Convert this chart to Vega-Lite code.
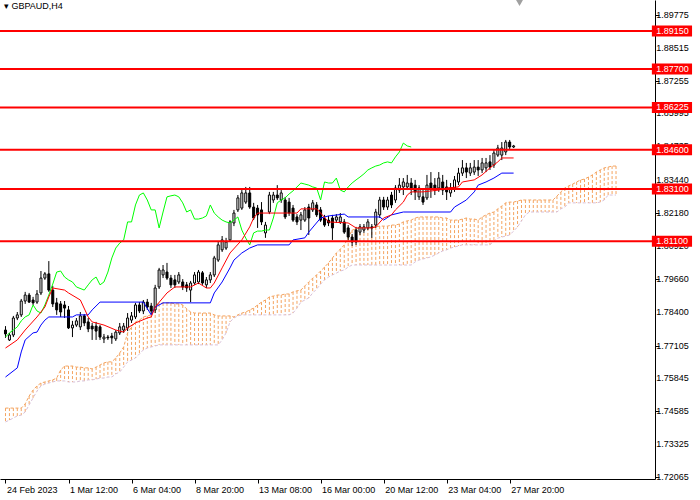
{
  "$schema": "https://vega.github.io/schema/vega-lite/v6.json",
  "width": 655,
  "height": 479,
  "autosize": "none",
  "padding": {"left": 0, "top": 0, "right": 45, "bottom": 21},
  "background": "white",
  "title": {"text": "▾  GBPAUD,H4", "anchor": "start", "frame": "group", "offset": -16, "baseline": "middle", "dx": 4, "fontSize": 9, "fontWeight": "normal", "font": "Liberation Sans", "color": "black"},
  "datasets": {
    "candles": [
      {"i":0,"o":1.7770,"h":1.7785,"l":1.7740,"c":1.7755},
      {"i":1,"o":1.7732,"h":1.7759,"l":1.7728,"c":1.7751},
      {"i":2,"o":1.7751,"h":1.7824,"l":1.7743,"c":1.7816},
      {"i":3,"o":1.7816,"h":1.7839,"l":1.7808,"c":1.7828},
      {"i":4,"o":1.7828,"h":1.7889,"l":1.7820,"c":1.7881},
      {"i":5,"o":1.7881,"h":1.7916,"l":1.7870,"c":1.7904},
      {"i":6,"o":1.7904,"h":1.7912,"l":1.7874,"c":1.7877},
      {"i":7,"o":1.7885,"h":1.7897,"l":1.7866,"c":1.7874},
      {"i":8,"o":1.7877,"h":1.7923,"l":1.7870,"c":1.7908},
      {"i":9,"o":1.7912,"h":1.7996,"l":1.7904,"c":1.7969},
      {"i":10,"o":1.7969,"h":1.7992,"l":1.7962,"c":1.7985},
      {"i":11,"o":1.7985,"h":1.8034,"l":1.7916,"c":1.7923},
      {"i":12,"o":1.7923,"h":1.7939,"l":1.7858,"c":1.7870},
      {"i":13,"o":1.7874,"h":1.7893,"l":1.7828,"c":1.7847},
      {"i":14,"o":1.7870,"h":1.7881,"l":1.7820,"c":1.7839},
      {"i":15,"o":1.7866,"h":1.7881,"l":1.7816,"c":1.7854},
      {"i":16,"o":1.7847,"h":1.7862,"l":1.7774,"c":1.7778},
      {"i":17,"o":1.7778,"h":1.7805,"l":1.7743,"c":1.7789},
      {"i":18,"o":1.7789,"h":1.7816,"l":1.7782,"c":1.7805},
      {"i":19,"o":1.7782,"h":1.7839,"l":1.7770,"c":1.7824},
      {"i":20,"o":1.7824,"h":1.7831,"l":1.7785,"c":1.7797},
      {"i":21,"o":1.7801,"h":1.7816,"l":1.7762,"c":1.7774},
      {"i":22,"o":1.7785,"h":1.7797,"l":1.7732,"c":1.7774},
      {"i":23,"o":1.7785,"h":1.7801,"l":1.7732,"c":1.7766},
      {"i":24,"o":1.7782,"h":1.7789,"l":1.7732,"c":1.7743},
      {"i":25,"o":1.7736,"h":1.7755,"l":1.7720,"c":1.7743},
      {"i":26,"o":1.7743,"h":1.7751,"l":1.7732,"c":1.7740},
      {"i":27,"o":1.7747,"h":1.7759,"l":1.7717,"c":1.7740},
      {"i":28,"o":1.7736,"h":1.7770,"l":1.7728,"c":1.7762},
      {"i":29,"o":1.7759,"h":1.7797,"l":1.7751,"c":1.7782},
      {"i":30,"o":1.7770,"h":1.7797,"l":1.7759,"c":1.7785},
      {"i":31,"o":1.7778,"h":1.7835,"l":1.7766,"c":1.7816},
      {"i":32,"o":1.7808,"h":1.7839,"l":1.7797,"c":1.7824},
      {"i":33,"o":1.7820,"h":1.7874,"l":1.7812,"c":1.7866},
      {"i":34,"o":1.7866,"h":1.7877,"l":1.7835,"c":1.7843},
      {"i":35,"o":1.7843,"h":1.7885,"l":1.7831,"c":1.7877},
      {"i":36,"o":1.7877,"h":1.7889,"l":1.7847,"c":1.7858},
      {"i":37,"o":1.7862,"h":1.7874,"l":1.7831,"c":1.7843},
      {"i":38,"o":1.7847,"h":1.7943,"l":1.7835,"c":1.7931},
      {"i":39,"o":1.7935,"h":1.8008,"l":1.7927,"c":1.8000},
      {"i":40,"o":1.7981,"h":1.8019,"l":1.7969,"c":1.8000},
      {"i":41,"o":1.7992,"h":1.8027,"l":1.7962,"c":1.7969},
      {"i":42,"o":1.7969,"h":1.7981,"l":1.7931,"c":1.7943},
      {"i":43,"o":1.7962,"h":1.7981,"l":1.7931,"c":1.7943},
      {"i":44,"o":1.7954,"h":1.7992,"l":1.7946,"c":1.7981},
      {"i":45,"o":1.7954,"h":1.7965,"l":1.7923,"c":1.7935},
      {"i":46,"o":1.7943,"h":1.7954,"l":1.7916,"c":1.7931},
      {"i":47,"o":1.7923,"h":1.7958,"l":1.7877,"c":1.7950},
      {"i":48,"o":1.7950,"h":1.7992,"l":1.7943,"c":1.7981},
      {"i":49,"o":1.7954,"h":1.8000,"l":1.7946,"c":1.7992},
      {"i":50,"o":1.7989,"h":1.7996,"l":1.7943,"c":1.7950},
      {"i":51,"o":1.7943,"h":1.7973,"l":1.7931,"c":1.7962},
      {"i":52,"o":1.7962,"h":1.7992,"l":1.7950,"c":1.7981},
      {"i":53,"o":1.7981,"h":1.8054,"l":1.7973,"c":1.8046},
      {"i":54,"o":1.8038,"h":1.8107,"l":1.8031,"c":1.8096},
      {"i":55,"o":1.8077,"h":1.8130,"l":1.8069,"c":1.8115},
      {"i":56,"o":1.8084,"h":1.8123,"l":1.8077,"c":1.8107},
      {"i":57,"o":1.8115,"h":1.8191,"l":1.8107,"c":1.8184},
      {"i":58,"o":1.8180,"h":1.8230,"l":1.8168,"c":1.8218},
      {"i":59,"o":1.8230,"h":1.8287,"l":1.8222,"c":1.8276},
      {"i":60,"o":1.8237,"h":1.8306,"l":1.8230,"c":1.8295},
      {"i":61,"o":1.8260,"h":1.8318,"l":1.8253,"c":1.8295},
      {"i":62,"o":1.8295,"h":1.8318,"l":1.8234,"c":1.8241},
      {"i":63,"o":1.8241,"h":1.8257,"l":1.8191,"c":1.8199},
      {"i":64,"o":1.8237,"h":1.8249,"l":1.8161,"c":1.8211},
      {"i":65,"o":1.8230,"h":1.8260,"l":1.8172,"c":1.8184},
      {"i":66,"o":1.8142,"h":1.8184,"l":1.8123,"c":1.8172},
      {"i":67,"o":1.8222,"h":1.8299,"l":1.8214,"c":1.8287},
      {"i":68,"o":1.8268,"h":1.8299,"l":1.8257,"c":1.8287},
      {"i":69,"o":1.8287,"h":1.8325,"l":1.8268,"c":1.8276},
      {"i":70,"o":1.8268,"h":1.8306,"l":1.8257,"c":1.8295},
      {"i":71,"o":1.8268,"h":1.8280,"l":1.8195,"c":1.8203},
      {"i":72,"o":1.8260,"h":1.8276,"l":1.8207,"c":1.8218},
      {"i":73,"o":1.8237,"h":1.8249,"l":1.8184,"c":1.8191},
      {"i":74,"o":1.8203,"h":1.8214,"l":1.8172,"c":1.8184},
      {"i":75,"o":1.8191,"h":1.8222,"l":1.8153,"c":1.8211},
      {"i":76,"o":1.8191,"h":1.8241,"l":1.8184,"c":1.8230},
      {"i":77,"o":1.8241,"h":1.8253,"l":1.8134,"c":1.8199},
      {"i":78,"o":1.8230,"h":1.8268,"l":1.8222,"c":1.8257},
      {"i":79,"o":1.8249,"h":1.8260,"l":1.8203,"c":1.8211},
      {"i":80,"o":1.8230,"h":1.8241,"l":1.8184,"c":1.8191},
      {"i":81,"o":1.8199,"h":1.8211,"l":1.8165,"c":1.8172},
      {"i":82,"o":1.8191,"h":1.8207,"l":1.8168,"c":1.8180},
      {"i":83,"o":1.8199,"h":1.8211,"l":1.8115,"c":1.8161},
      {"i":84,"o":1.8191,"h":1.8214,"l":1.8180,"c":1.8203},
      {"i":85,"o":1.8184,"h":1.8218,"l":1.8176,"c":1.8203},
      {"i":86,"o":1.8184,"h":1.8195,"l":1.8138,"c":1.8145},
      {"i":87,"o":1.8161,"h":1.8172,"l":1.8115,"c":1.8126},
      {"i":88,"o":1.8126,"h":1.8138,"l":1.8092,"c":1.8107},
      {"i":89,"o":1.8153,"h":1.8165,"l":1.8096,"c":1.8107},
      {"i":90,"o":1.8145,"h":1.8176,"l":1.8134,"c":1.8165},
      {"i":91,"o":1.8153,"h":1.8176,"l":1.8142,"c":1.8165},
      {"i":92,"o":1.8161,"h":1.8195,"l":1.8153,"c":1.8184},
      {"i":93,"o":1.8165,"h":1.8176,"l":1.8123,"c":1.8161},
      {"i":94,"o":1.8172,"h":1.8234,"l":1.8161,"c":1.8222},
      {"i":95,"o":1.8211,"h":1.8280,"l":1.8199,"c":1.8268},
      {"i":96,"o":1.8268,"h":1.8280,"l":1.8230,"c":1.8241},
      {"i":97,"o":1.8241,"h":1.8280,"l":1.8230,"c":1.8268},
      {"i":98,"o":1.8287,"h":1.8299,"l":1.8237,"c":1.8249},
      {"i":99,"o":1.8268,"h":1.8325,"l":1.8257,"c":1.8314},
      {"i":100,"o":1.8306,"h":1.8352,"l":1.8295,"c":1.8325},
      {"i":101,"o":1.8318,"h":1.8352,"l":1.8287,"c":1.8337},
      {"i":102,"o":1.8318,"h":1.8364,"l":1.8306,"c":1.8333},
      {"i":103,"o":1.8333,"h":1.8352,"l":1.8287,"c":1.8314},
      {"i":104,"o":1.8325,"h":1.8345,"l":1.8268,"c":1.8299},
      {"i":105,"o":1.8280,"h":1.8325,"l":1.8268,"c":1.8314},
      {"i":106,"o":1.8280,"h":1.8306,"l":1.8249,"c":1.8260},
      {"i":107,"o":1.8276,"h":1.8364,"l":1.8268,"c":1.8325},
      {"i":108,"o":1.8333,"h":1.8375,"l":1.8276,"c":1.8314},
      {"i":109,"o":1.8325,"h":1.8352,"l":1.8287,"c":1.8306},
      {"i":110,"o":1.8314,"h":1.8375,"l":1.8299,"c":1.8352},
      {"i":111,"o":1.8337,"h":1.8364,"l":1.8287,"c":1.8306},
      {"i":112,"o":1.8318,"h":1.8345,"l":1.8268,"c":1.8299},
      {"i":113,"o":1.8295,"h":1.8333,"l":1.8280,"c":1.8314},
      {"i":114,"o":1.8314,"h":1.8360,"l":1.8299,"c":1.8345},
      {"i":115,"o":1.8337,"h":1.8391,"l":1.8325,"c":1.8371},
      {"i":116,"o":1.8371,"h":1.8421,"l":1.8360,"c":1.8391},
      {"i":117,"o":1.8391,"h":1.8410,"l":1.8352,"c":1.8375},
      {"i":118,"o":1.8371,"h":1.8410,"l":1.8360,"c":1.8391},
      {"i":119,"o":1.8375,"h":1.8421,"l":1.8364,"c":1.8394},
      {"i":120,"o":1.8394,"h":1.8421,"l":1.8360,"c":1.8383},
      {"i":121,"o":1.8383,"h":1.8429,"l":1.8371,"c":1.8410},
      {"i":122,"o":1.8391,"h":1.8429,"l":1.8375,"c":1.8410},
      {"i":123,"o":1.8414,"h":1.8440,"l":1.8383,"c":1.8394},
      {"i":124,"o":1.8402,"h":1.8460,"l":1.8391,"c":1.8448},
      {"i":125,"o":1.8440,"h":1.8479,"l":1.8433,"c":1.8467},
      {"i":126,"o":1.8440,"h":1.8490,"l":1.8421,"c":1.8467},
      {"i":127,"o":1.8452,"h":1.8498,"l":1.8440,"c":1.8490},
      {"i":128,"o":1.8490,"h":1.8498,"l":1.8460,"c":1.8471},
      {"i":129,"o":1.8471,"h":1.8479,"l":1.8467,"c":1.8475}
    ],
    "cloud": [
      {"i":0,"a":1.7471,"b":1.7418},{"i":1,"a":1.7471,"b":1.7425},{"i":2,"a":1.7471,"b":1.7433},{"i":3,"a":1.7471,"b":1.7441},
      {"i":4,"a":1.7471,"b":1.7444},{"i":5,"a":1.7487,"b":1.7456},{"i":6,"a":1.7517,"b":1.7483},{"i":7,"a":1.7540,"b":1.7510},
      {"i":8,"a":1.7556,"b":1.7536},{"i":9,"a":1.7567,"b":1.7556},{"i":10,"a":1.7571,"b":1.7563},{"i":11,"a":1.7575,"b":1.7567},
      {"i":12,"a":1.7579,"b":1.7571},{"i":13,"a":1.7586,"b":1.7575},{"i":14,"a":1.7617,"b":1.7575},{"i":15,"a":1.7632,"b":1.7575},
      {"i":16,"a":1.7632,"b":1.7571},{"i":17,"a":1.7632,"b":1.7571},{"i":18,"a":1.7628,"b":1.7571},{"i":19,"a":1.7628,"b":1.7575},
      {"i":20,"a":1.7625,"b":1.7575},{"i":21,"a":1.7625,"b":1.7579},{"i":22,"a":1.7621,"b":1.7579},{"i":23,"a":1.7628,"b":1.7582},
      {"i":24,"a":1.7636,"b":1.7586},{"i":25,"a":1.7644,"b":1.7586},{"i":26,"a":1.7648,"b":1.7590},{"i":27,"a":1.7648,"b":1.7590},
      {"i":28,"a":1.7663,"b":1.7602},{"i":29,"a":1.7682,"b":1.7609},{"i":30,"a":1.7705,"b":1.7628},{"i":31,"a":1.7759,"b":1.7648},
      {"i":32,"a":1.7782,"b":1.7655},{"i":33,"a":1.7801,"b":1.7663},{"i":34,"a":1.7808,"b":1.7678},{"i":35,"a":1.7820,"b":1.7694},
      {"i":36,"a":1.7824,"b":1.7701},{"i":37,"a":1.7828,"b":1.7705},{"i":38,"a":1.7866,"b":1.7709},{"i":39,"a":1.7870,"b":1.7713},
      {"i":40,"a":1.7874,"b":1.7713},{"i":41,"a":1.7874,"b":1.7713},{"i":42,"a":1.7874,"b":1.7713},{"i":43,"a":1.7870,"b":1.7713},
      {"i":44,"a":1.7870,"b":1.7713},{"i":45,"a":1.7866,"b":1.7713},{"i":46,"a":1.7851,"b":1.7713},{"i":47,"a":1.7839,"b":1.7713},
      {"i":48,"a":1.7835,"b":1.7713},{"i":49,"a":1.7835,"b":1.7713},{"i":50,"a":1.7835,"b":1.7713},{"i":51,"a":1.7835,"b":1.7713},
      {"i":52,"a":1.7835,"b":1.7713},{"i":53,"a":1.7828,"b":1.7713},{"i":54,"a":1.7824,"b":1.7713},{"i":55,"a":1.7824,"b":1.7732},
      {"i":56,"a":1.7824,"b":1.7759},{"i":57,"a":1.7824,"b":1.7801},{"i":58,"a":1.7820,"b":1.7816},{"i":59,"a":1.7828,"b":1.7824},
      {"i":60,"a":1.7835,"b":1.7828},{"i":61,"a":1.7839,"b":1.7828},{"i":62,"a":1.7847,"b":1.7828},{"i":63,"a":1.7854,"b":1.7828},
      {"i":64,"a":1.7866,"b":1.7828},{"i":65,"a":1.7877,"b":1.7828},{"i":66,"a":1.7885,"b":1.7828},{"i":67,"a":1.7897,"b":1.7828},
      {"i":68,"a":1.7900,"b":1.7828},{"i":69,"a":1.7904,"b":1.7828},{"i":70,"a":1.7904,"b":1.7828},{"i":71,"a":1.7908,"b":1.7828},
      {"i":72,"a":1.7908,"b":1.7828},{"i":73,"a":1.7916,"b":1.7835},{"i":74,"a":1.7920,"b":1.7854},{"i":75,"a":1.7923,"b":1.7877},
      {"i":76,"a":1.7939,"b":1.7885},{"i":77,"a":1.7954,"b":1.7893},{"i":78,"a":1.7969,"b":1.7912},{"i":79,"a":1.7981,"b":1.7927},
      {"i":80,"a":1.7996,"b":1.7946},{"i":81,"a":1.8011,"b":1.7962},{"i":82,"a":1.8027,"b":1.7973},{"i":83,"a":1.8046,"b":1.7981},
      {"i":84,"a":1.8065,"b":1.7988},{"i":85,"a":1.8080,"b":1.7996},{"i":86,"a":1.8096,"b":1.8000},{"i":87,"a":1.8122,"b":1.8011},
      {"i":88,"a":1.8153,"b":1.8019},{"i":89,"a":1.8157,"b":1.8019},{"i":90,"a":1.8161,"b":1.8019},{"i":91,"a":1.8161,"b":1.8019},
      {"i":92,"a":1.8161,"b":1.8019},{"i":93,"a":1.8165,"b":1.8019},{"i":94,"a":1.8165,"b":1.8019},{"i":95,"a":1.8168,"b":1.8019},
      {"i":96,"a":1.8168,"b":1.8019},{"i":97,"a":1.8168,"b":1.8019},{"i":98,"a":1.8172,"b":1.8019},{"i":99,"a":1.8172,"b":1.8019},
      {"i":100,"a":1.8176,"b":1.8019},{"i":101,"a":1.8184,"b":1.8019},{"i":102,"a":1.8188,"b":1.8019},{"i":103,"a":1.8191,"b":1.8019},
      {"i":104,"a":1.8199,"b":1.8031},{"i":105,"a":1.8203,"b":1.8038},{"i":106,"a":1.8203,"b":1.8042},{"i":107,"a":1.8203,"b":1.8046},
      {"i":108,"a":1.8203,"b":1.8050},{"i":109,"a":1.8203,"b":1.8057},{"i":110,"a":1.8203,"b":1.8065},{"i":111,"a":1.8199,"b":1.8073},
      {"i":112,"a":1.8199,"b":1.8077},{"i":113,"a":1.8191,"b":1.8084},{"i":114,"a":1.8191,"b":1.8088},{"i":115,"a":1.8191,"b":1.8092},
      {"i":116,"a":1.8195,"b":1.8096},{"i":117,"a":1.8199,"b":1.8096},{"i":118,"a":1.8195,"b":1.8096},{"i":119,"a":1.8195,"b":1.8096},
      {"i":120,"a":1.8191,"b":1.8096},{"i":121,"a":1.8203,"b":1.8096},{"i":122,"a":1.8211,"b":1.8096},{"i":123,"a":1.8218,"b":1.8096},
      {"i":124,"a":1.8222,"b":1.8111},{"i":125,"a":1.8234,"b":1.8122},{"i":126,"a":1.8245,"b":1.8126},{"i":127,"a":1.8257,"b":1.8130},
      {"i":128,"a":1.8260,"b":1.8134},{"i":129,"a":1.8260,"b":1.8149},{"i":130,"a":1.8264,"b":1.8165},{"i":131,"a":1.8268,"b":1.8188},
      {"i":132,"a":1.8268,"b":1.8211},{"i":133,"a":1.8268,"b":1.8222},{"i":134,"a":1.8268,"b":1.8222},{"i":135,"a":1.8268,"b":1.8222},
      {"i":136,"a":1.8268,"b":1.8222},{"i":137,"a":1.8268,"b":1.8222},{"i":138,"a":1.8268,"b":1.8222},{"i":139,"a":1.8268,"b":1.8222},
      {"i":140,"a":1.8283,"b":1.8222},{"i":141,"a":1.8299,"b":1.8234},{"i":142,"a":1.8314,"b":1.8241},{"i":143,"a":1.8322,"b":1.8257},
      {"i":144,"a":1.8329,"b":1.8257},{"i":145,"a":1.8337,"b":1.8257},{"i":146,"a":1.8345,"b":1.8257},{"i":147,"a":1.8348,"b":1.8257},
      {"i":148,"a":1.8356,"b":1.8257},{"i":149,"a":1.8364,"b":1.8257},{"i":150,"a":1.8375,"b":1.8257},{"i":151,"a":1.8383,"b":1.8260},
      {"i":152,"a":1.8391,"b":1.8268},{"i":153,"a":1.8394,"b":1.8287},{"i":154,"a":1.8398,"b":1.8287},{"i":155,"a":1.8398,"b":1.8287}
    ],
    "tenkan": [
      {"i":0,"v":1.7701},{"i":3,"v":1.7732},{"i":5,"v":1.7770},{"i":8,"v":1.7820},{"i":10,"v":1.7858},{"i":11,"v":1.7897},
      {"i":12,"v":1.7931},{"i":15,"v":1.7923},{"i":16,"v":1.7912},{"i":19,"v":1.7885},{"i":21,"v":1.7820},{"i":22,"v":1.7801},
      {"i":25,"v":1.7789},{"i":28,"v":1.7770},{"i":30,"v":1.7762},{"i":31,"v":1.7778},{"i":33,"v":1.7797},{"i":36,"v":1.7816},
      {"i":37,"v":1.7820},{"i":38,"v":1.7858},{"i":41,"v":1.7912},{"i":43,"v":1.7935},{"i":47,"v":1.7935},{"i":49,"v":1.7950},
      {"i":51,"v":1.7931},{"i":52,"v":1.7931},{"i":53,"v":1.7950},{"i":55,"v":1.8008},{"i":57,"v":1.8065},{"i":60,"v":1.8115},
      {"i":62,"v":1.8165},{"i":63,"v":1.8199},{"i":64,"v":1.8218},{"i":74,"v":1.8218},{"i":75,"v":1.8234},{"i":79,"v":1.8234},
      {"i":80,"v":1.8218},{"i":82,"v":1.8184},{"i":87,"v":1.8180},{"i":89,"v":1.8161},{"i":93,"v":1.8161},{"i":94,"v":1.8165},
      {"i":96,"v":1.8199},{"i":98,"v":1.8211},{"i":99,"v":1.8230},{"i":101,"v":1.8260},{"i":102,"v":1.8287},{"i":103,"v":1.8299},
      {"i":106,"v":1.8299},{"i":110,"v":1.8306},{"i":112,"v":1.8314},{"i":115,"v":1.8318},{"i":116,"v":1.8337},{"i":119,"v":1.8345},
      {"i":121,"v":1.8364},{"i":123,"v":1.8391},{"i":125,"v":1.8414},{"i":126,"v":1.8429},{"i":129,"v":1.8429}
    ],
    "kijun": [
      {"i":0,"v":1.7590},{"i":3,"v":1.7625},{"i":4,"v":1.7686},{"i":5,"v":1.7732},{"i":7,"v":1.7759},{"i":8,"v":1.7762},
      {"i":9,"v":1.7789},{"i":10,"v":1.7808},{"i":11,"v":1.7820},{"i":17,"v":1.7820},{"i":18,"v":1.7828},{"i":21,"v":1.7828},
      {"i":22,"v":1.7847},{"i":24,"v":1.7877},{"i":35,"v":1.7877},{"i":37,"v":1.7828},{"i":38,"v":1.7858},{"i":40,"v":1.7874},
      {"i":52,"v":1.7874},{"i":53,"v":1.7912},{"i":55,"v":1.7954},{"i":57,"v":1.8008},{"i":58,"v":1.8038},{"i":60,"v":1.8065},
      {"i":62,"v":1.8084},{"i":64,"v":1.8096},{"i":72,"v":1.8096},{"i":73,"v":1.8115},{"i":76,"v":1.8123},{"i":77,"v":1.8145},
      {"i":80,"v":1.8199},{"i":82,"v":1.8207},{"i":86,"v":1.8214},{"i":87,"v":1.8203},{"i":95,"v":1.8203},{"i":96,"v":1.8191},
      {"i":98,"v":1.8211},{"i":101,"v":1.8222},{"i":113,"v":1.8222},{"i":114,"v":1.8241},{"i":117,"v":1.8268},{"i":119,"v":1.8299},
      {"i":120,"v":1.8325},{"i":122,"v":1.8337},{"i":124,"v":1.8352},{"i":126,"v":1.8371},{"i":129,"v":1.8371}
    ],
    "chikou": [
      {"i":0,"v":1.7743},{"i":1,"v":1.7759},{"i":2,"v":1.7770},{"i":3,"v":1.7782},{"i":4,"v":1.7805},{"i":5,"v":1.7820},
      {"i":6,"v":1.7828},{"i":7,"v":1.7866},{"i":8,"v":1.7843},{"i":9,"v":1.7835},{"i":10,"v":1.7866},{"i":11,"v":1.7904},
      {"i":12,"v":1.7946},{"i":13,"v":1.7992},{"i":14,"v":1.7996},{"i":15,"v":1.7973},{"i":16,"v":1.7962},{"i":17,"v":1.7954},
      {"i":18,"v":1.7935},{"i":20,"v":1.7923},{"i":21,"v":1.7943},{"i":22,"v":1.7962},{"i":23,"v":1.7973},{"i":24,"v":1.7943},
      {"i":25,"v":1.7954},{"i":26,"v":1.7992},{"i":27,"v":1.8046},{"i":28,"v":1.8084},{"i":29,"v":1.8103},{"i":30,"v":1.8115},
      {"i":31,"v":1.8184},{"i":32,"v":1.8184},{"i":33,"v":1.8249},{"i":34,"v":1.8287},{"i":35,"v":1.8295},{"i":36,"v":1.8268},
      {"i":37,"v":1.8230},{"i":38,"v":1.8230},{"i":39,"v":1.8161},{"i":40,"v":1.8222},{"i":41,"v":1.8280},{"i":42,"v":1.8284},
      {"i":43,"v":1.8287},{"i":44,"v":1.8280},{"i":45,"v":1.8257},{"i":46,"v":1.8222},{"i":47,"v":1.8230},{"i":48,"v":1.8195},
      {"i":49,"v":1.8195},{"i":50,"v":1.8199},{"i":51,"v":1.8207},{"i":52,"v":1.8249},{"i":53,"v":1.8218},{"i":54,"v":1.8203},
      {"i":55,"v":1.8191},{"i":56,"v":1.8184},{"i":57,"v":1.8180},{"i":58,"v":1.8191},{"i":59,"v":1.8203},{"i":60,"v":1.8153},
      {"i":61,"v":1.8122},{"i":62,"v":1.8096},{"i":63,"v":1.8142},{"i":64,"v":1.8149},{"i":65,"v":1.8149},{"i":66,"v":1.8153},
      {"i":67,"v":1.8153},{"i":68,"v":1.8199},{"i":69,"v":1.8257},{"i":70,"v":1.8268},{"i":71,"v":1.8276},{"i":72,"v":1.8291},
      {"i":73,"v":1.8303},{"i":74,"v":1.8318},{"i":75,"v":1.8333},{"i":76,"v":1.8329},{"i":77,"v":1.8325},{"i":78,"v":1.8318},
      {"i":79,"v":1.8314},{"i":80,"v":1.8268},{"i":81,"v":1.8337},{"i":82,"v":1.8333},{"i":83,"v":1.8333},{"i":84,"v":1.8352},
      {"i":85,"v":1.8306},{"i":86,"v":1.8299},{"i":87,"v":1.8318},{"i":88,"v":1.8333},{"i":89,"v":1.8345},{"i":90,"v":1.8356},
      {"i":91,"v":1.8368},{"i":92,"v":1.8383},{"i":93,"v":1.8391},{"i":94,"v":1.8398},{"i":95,"v":1.8402},{"i":96,"v":1.8410},
      {"i":97,"v":1.8414},{"i":98,"v":1.8410},{"i":99,"v":1.8433},{"i":100,"v":1.8452},{"i":101,"v":1.8486},{"i":102,"v":1.8475},
      {"i":103,"v":1.8471}
    ],
    "levels": [{"p":1.8915},{"p":1.877},{"p":1.86225},{"p":1.846},{"p":1.831},{"p":1.811}],
    "yticks": [{"t":1.89775},{"t":1.88515},{"t":1.87255},{"t":1.85995},{"t":1.84735},{"t":1.8344},{"t":1.8218},{"t":1.8092},{"t":1.7966},{"t":1.784},{"t":1.77105},{"t":1.75845},{"t":1.74585},{"t":1.73325},{"t":1.72065}]
  },
  "layer": [
    {
      "data": {"name": "cloud"},
      "mark": {"type": "rule", "color": "#F4A460", "strokeWidth": 1, "strokeDash": [3, 2]},
      "encoding": {
        "x": {
          "field": "i", "type": "quantitative", "title": null,
          "scale": {"domain": [-0.125, 163.625], "nice": false, "zero": false},
          "axis": {
            "values": [0, 16, 32, 48, 64, 80, 96, 112, 128],
            "labelExpr": "['24 Feb 2023','1 Mar 12:00','6 Mar 04:00','8 Mar 20:00','13 Mar 08:00','16 Mar 00:00','20 Mar 12:00','23 Mar 04:00','27 Mar 20:00'][datum.value / 16]",
            "labelAlign": "left", "labelBaseline": "top", "labelPadding": 2, "labelOffset": 1,
            "tickSize": 4, "grid": false, "domainColor": "black", "tickColor": "black",
            "labelColor": "black", "labelFont": "Liberation Sans", "labelFontSize": 9,
            "labelOverlap": false, "labelFlush": false, "labelBound": false
          }
        },
        "y": {
          "field": "a", "type": "quantitative", "title": null,
          "scale": {"domain": [1.71994, 1.9034], "nice": false, "zero": false},
          "axis": {
            "orient": "right",
            "values": [1.89775, 1.88515, 1.87255, 1.85995, 1.84735, 1.8344, 1.8218, 1.8092, 1.7966, 1.784, 1.77105, 1.75845, 1.74585, 1.73325, 1.72065],
            "labels": false, "grid": false, "tickSize": 4,
            "domainColor": "black", "tickColor": "black"
          }
        },
        "y2": {"field": "b"}
      }
    },
    {
      "data": {"name": "cloud"},
      "mark": {"type": "line", "color": "#D8BFD8", "strokeWidth": 1, "strokeDash": [3, 2]},
      "encoding": {
        "x": {"field": "i", "type": "quantitative", "title": null},
        "y": {"field": "b", "type": "quantitative", "title": null}
      }
    },
    {
      "data": {"name": "cloud"},
      "mark": {"type": "line", "color": "#F4A460", "strokeWidth": 1, "strokeDash": [3, 2]},
      "encoding": {
        "x": {"field": "i", "type": "quantitative", "title": null},
        "y": {"field": "a", "type": "quantitative", "title": null}
      }
    },
    {
      "data": {"name": "candles"},
      "mark": {"type": "rule", "color": "black", "strokeWidth": 1},
      "encoding": {
        "x": {"field": "i", "type": "quantitative", "title": null},
        "y": {"field": "l", "type": "quantitative", "title": null},
        "y2": {"field": "h"}
      }
    },
    {
      "data": {"name": "candles"},
      "mark": {"type": "bar", "width": 2, "stroke": "black", "strokeWidth": 1},
      "encoding": {
        "x": {"field": "i", "type": "quantitative", "title": null},
        "y": {"field": "o", "type": "quantitative", "title": null},
        "y2": {"field": "c"},
        "fill": {"condition": {"test": "datum.c < datum.o", "value": "black"}, "value": "white"}
      }
    },
    {
      "data": {"name": "chikou"},
      "mark": {"type": "line", "color": "#00FF00", "strokeWidth": 1},
      "encoding": {
        "x": {"field": "i", "type": "quantitative", "title": null},
        "y": {"field": "v", "type": "quantitative", "title": null}
      }
    },
    {
      "data": {"name": "kijun"},
      "mark": {"type": "line", "color": "#0000FF", "strokeWidth": 1},
      "encoding": {
        "x": {"field": "i", "type": "quantitative", "title": null},
        "y": {"field": "v", "type": "quantitative", "title": null}
      }
    },
    {
      "data": {"name": "tenkan"},
      "mark": {"type": "line", "color": "#FF0000", "strokeWidth": 1},
      "encoding": {
        "x": {"field": "i", "type": "quantitative", "title": null},
        "y": {"field": "v", "type": "quantitative", "title": null}
      }
    },
    {
      "data": {"name": "levels"},
      "mark": {"type": "rule", "color": "#FF0000", "strokeWidth": 2},
      "encoding": {
        "y": {"field": "p", "type": "quantitative", "title": null}
      }
    },
    {
      "data": {"name": "yticks"},
      "mark": {"type": "text", "color": "black", "font": "Liberation Sans", "fontSize": 9, "align": "left", "baseline": "middle"},
      "encoding": {
        "x": {"datum": 165.2},
        "y": {"field": "t", "type": "quantitative", "title": null},
        "text": {"field": "t", "type": "quantitative", "format": ".5f"}
      }
    },
    {
      "data": {"name": "levels"},
      "mark": {"type": "rule", "color": "#FF0000", "strokeWidth": 11},
      "encoding": {
        "x": {"datum": 164.1},
        "x2": {"datum": 174.3},
        "y": {"field": "p", "type": "quantitative", "title": null}
      }
    },
    {
      "data": {"name": "levels"},
      "mark": {"type": "text", "color": "white", "font": "Liberation Sans", "fontSize": 9, "align": "left", "baseline": "middle"},
      "encoding": {
        "x": {"datum": 165.2},
        "y": {"field": "p", "type": "quantitative", "title": null},
        "text": {"field": "p", "type": "quantitative", "format": ".5f"}
      }
    },
    {
      "data": {"values": [{}]},
      "mark": {"type": "point", "shape": "triangle-down", "filled": true, "color": "#A0A0A0", "size": 60, "opacity": 1},
      "encoding": {
        "x": {"datum": 130.5},
        "y": {"datum": 1.9024}
      }
    }
  ],
  "config": {
    "view": {"stroke": null},
    "axis": {"labelOverlap": false, "labelBound": false, "labelFlush": false}
  }
}
